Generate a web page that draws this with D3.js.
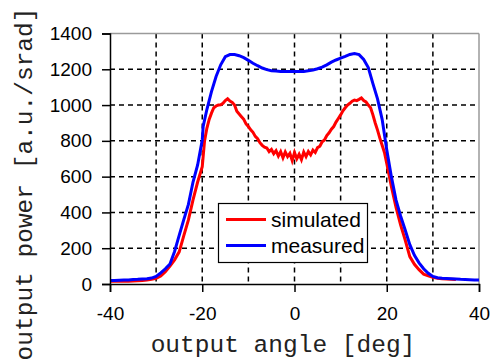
<!DOCTYPE html>
<html>
<head>
<meta charset="utf-8">
<script src="https://cdn.jsdelivr.net/npm/d3@7/dist/d3.min.js"></script>
<style>
  html, body { margin: 0; padding: 0; background: #fff; }
  svg { display: block; }
</style>
</head>
<body>
<svg id="chart" width="497" height="359"></svg>
<script>
// ---- data ----
const xTicks = [-40, -20, 0, 20, 40];
const xGrid = [-30, -20, -10, 0, 10, 20, 30];
const yTicks = [0, 200, 400, 600, 800, 1000, 1200, 1400];
const yGrid = [200, 400, 600, 800, 1000, 1200];
const seriesNames = ["simulated", "measured"];

const measuredAngle = [-40,-39,-38,-37,-36,-35,-34,-33,-32,-31,-30,-29,-28,-27,-26,-25,-24,-23,-22,-21,-20,-19.8,-19,-18,-17,-16,-15,-14,-13,-12,-11,-10,-9,-8,-7,-6,-5,-4,-3,-2,-1,0,1,2,3,4,5,6,7,8,9,10,11,12,13,14,15,16,17,18,19,20,21,22,23,24,25,26,27,28,29,30,31,32,33,34,35,36,37,38,39,40];
const measuredValue = [20,20,21,22,23,25,26,28,30,33,42,62,85,112,182,272,360,445,570,665,805,880,975,1075,1160,1225,1270,1282,1282,1276,1265,1250,1234,1220,1207,1198,1192,1190,1188,1187,1187,1187,1187,1188,1192,1196,1203,1212,1225,1240,1252,1262,1272,1283,1288,1282,1255,1210,1120,1035,920,750,600,470,380,302,220,160,118,85,60,42,35,32,31,30,28,26,25,24,23,22];

const simulatedAngle = [-40,-38,-36,-35,-34,-33,-32,-31,-30,-29,-28,-27,-26,-25,-24,-23,-22,-21,-20,-19.5,-19,-18.5,-18,-17.5,-17,-16.5,-16,-15.5,-15,-14.5,-14,-13.5,-13,-12.5,-12,-11.5,-11,-10.5,-10,-9.5,-9,-8.5,-8,-7.5,-7,-6.5,-6,-5.5,-5,-4.5,-4,-3.5,-3,-2.5,-2,-1.5,-1,-0.5,0,0.5,1,1.5,2,2.5,3,3.5,4,4.5,5,5.5,6,6.5,7,7.5,8,8.5,9,9.5,10,10.5,11,11.5,12,12.5,13,13.5,14,14.5,15,15.5,16,16.5,17,17.5,18,18.5,19,19.5,20,21,22,23,24,25,26,27,28,29,30,31,32,33,34,35];
const simulatedValue = [15,15,16,17,18,20,22,26,32,45,68,100,135,180,270,358,470,570,655,800,870,920,955,985,995,1000,1002,1010,1025,1035,1022,1015,1000,965,950,935,920,895,880,862,848,825,812,790,775,765,760,740,752,728,745,715,740,705,738,712,730,690,735,700,725,695,738,712,740,722,748,735,762,770,795,805,830,845,865,880,905,925,945,968,985,1000,1010,1022,1028,1025,1032,1040,1025,1018,1000,985,945,900,860,815,775,735,674,545,430,330,246,153,110,80,55,45,38,32,30,28,27,25];

// ---- layout ----
const svg = d3.select("#chart");
const x = d3.scaleLinear().domain([-40, 40]).range([110, 479]);
const y = d3.scaleLinear().domain([0, 1400]).range([284, 33.5]);

// grid
svg.append("g").selectAll("line").data(xGrid).join("line")
  .attr("x1", d => x(d)).attr("x2", d => x(d))
  .attr("y1", y(1400)).attr("y2", y(0))
  .attr("stroke", "#000").attr("stroke-width", 1.5).attr("stroke-dasharray", "5,4");
svg.append("g").selectAll("line").data(yGrid).join("line")
  .attr("x1", x(-40)).attr("x2", x(40))
  .attr("y1", d => y(d)).attr("y2", d => y(d))
  .attr("stroke", "#000").attr("stroke-width", 1.5).attr("stroke-dasharray", "5,4");

// frame (top/right gray)
svg.append("line").attr("x1", x(-40)).attr("x2", x(40)).attr("y1", y(1400)).attr("y2", y(1400))
  .attr("stroke", "#9a9a9a").attr("stroke-width", 1.5);
svg.append("line").attr("x1", x(40)).attr("x2", x(40)).attr("y1", y(1400)).attr("y2", y(0))
  .attr("stroke", "#9a9a9a").attr("stroke-width", 1.5);

// lines
const line = d3.line().x(d => x(d[0])).y(d => y(d[1]));
const simData = simulatedAngle.map((a, i) => [a, simulatedValue[i]]);
const meaData = measuredAngle.map((a, i) => [a, measuredValue[i]]);
svg.append("path").datum(simData).attr("d", line)
  .attr("fill", "none").attr("stroke", "#ff0000").attr("stroke-width", 3).attr("stroke-linejoin", "miter");
svg.append("path").datum(meaData).attr("d", line)
  .attr("fill", "none").attr("stroke", "#0000ff").attr("stroke-width", 3);

// axes
const xAxis = d3.axisBottom(x).tickValues(xTicks).tickSize(8).tickPadding(15).tickFormat(d3.format("d"));
const gx = svg.append("g").attr("transform", `translate(0,${y(0)})`).call(xAxis);
gx.select(".domain").attr("stroke", "#000").attr("stroke-width", 1.5);
gx.selectAll(".tick line").attr("stroke", "#000").attr("stroke-width", 1.5);
gx.selectAll("text").attr("font-family", "Liberation Sans, Arial, sans-serif").attr("font-size", 19).attr("fill", "#000")
  .text(d => d < 0 ? "-" + Math.abs(d) : d);

const yAxis = d3.axisLeft(y).tickValues(yTicks).tickSize(8).tickPadding(10).tickFormat(d3.format("d"));
const gy = svg.append("g").attr("transform", `translate(${x(-40)},0)`).call(yAxis);
gy.select(".domain").attr("stroke", "#000").attr("stroke-width", 1.5);
gy.selectAll(".tick line").attr("stroke", "#000").attr("stroke-width", 1.5);
gy.selectAll("text").attr("font-family", "Liberation Sans, Arial, sans-serif").attr("font-size", 19).attr("fill", "#000");

// axis titles
svg.append("text").attr("x", 283).attr("y", 352).attr("text-anchor", "middle")
  .attr("font-family", "Liberation Mono, Courier New, monospace").attr("font-size", 24.5).attr("fill", "#222")
  .text("output angle [deg]");
svg.append("text").attr("transform", "translate(32,184) rotate(-90)").attr("text-anchor", "middle")
  .attr("font-family", "Liberation Mono, Courier New, monospace").attr("font-size", 24.5).attr("fill", "#222")
  .text("output power [a.u./srad]");

// legend
const lg = svg.append("g");
lg.append("rect").attr("x", 218.5).attr("y", 203.5).attr("width", 149).attr("height", 59)
  .attr("fill", "#fff").attr("stroke", "#000").attr("stroke-width", 1.2);
const colors = ["#ff0000", "#0000ff"];
const rowY = [219.5, 245.5];
seriesNames.forEach((n, i) => {
  lg.append("line").attr("x1", 226).attr("x2", 266).attr("y1", rowY[i]).attr("y2", rowY[i])
    .attr("stroke", colors[i]).attr("stroke-width", 3);
  lg.append("text").attr("x", 271).attr("y", rowY[i] + 7.5)
    .attr("font-family", "Liberation Sans, Arial, sans-serif").attr("font-size", 21)
    .attr("fill", "#000").text(n);
});
</script>
</body>
</html>
